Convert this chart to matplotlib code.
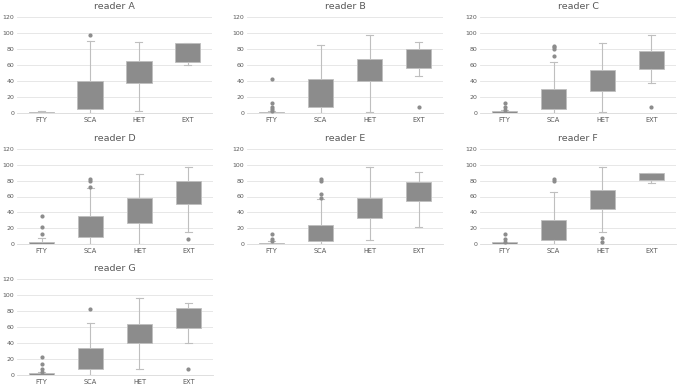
import matplotlib
matplotlib.use("Agg")
import matplotlib.pyplot as plt

categories = ["FTY", "SCA", "HET", "EXT"]
readers = ["A", "B", "C", "D", "E", "F", "G"]

# per reader: lower whisker, q1, q3, upper whisker for FTY, SCA, HET, EXT
whislo = {
    "A": [0, 0, 3, 60.5], "B": [0, 0, 1, 46], "C": [0, 0, 1, 37.5],
    "D": [0, 0, 0, 15], "E": [0, 0, 5, 22], "F": [0, 0, 15, 77],
    "G": [0, 0, 7, 40],
}
q1 = {
    "A": [0, 4.6, 38, 64], "B": [0, 7.5, 39.6, 56.7], "C": [0, 4.6, 27.5, 55.4],
    "D": [0, 9, 26, 50], "E": [0, 4, 33, 54.5], "F": [0, 4.6, 44, 80.5],
    "G": [0, 7, 40.5, 59],
}
q3 = {
    "A": [1, 39.5, 65.5, 88], "B": [1, 42, 67.5, 79.6], "C": [2, 30, 54, 78],
    "D": [3, 35, 58, 79], "E": [1, 24, 58, 78], "F": [2, 30, 68, 90],
    "G": [2, 34, 64, 84],
}
whishi = {
    "A": [2, 90, 89, 88], "B": [3, 85, 97, 89], "C": [4, 64, 87.5, 97],
    "D": [7, 70.5, 89, 97], "E": [4, 56.5, 97, 90.6], "F": [3, 66, 97, 90],
    "G": [4, 65, 96, 90],
}
outliers = {
    "A": [[], [97], [], []],
    "B": [[43, 13, 8, 5, 3], [], [], [7]],
    "C": [[13, 7, 4], [71, 80, 82, 84], [], [7]],
    "D": [[35, 21, 13], [72, 80, 82], [], [6]],
    "E": [[13, 6, 4], [58, 63, 80, 82], [], []],
    "F": [[13, 6, 3], [80, 82], [7, 2], []],
    "G": [[22, 14, 8, 4], [82], [], [7.5]],
}

# axes rectangles in pixels: left, right, top, bottom (from top of image)
W, H = 677, 387
boxes_px = {
    "A": (17, 212, 17, 113), "B": (247, 443, 17, 113), "C": (480, 676, 17, 113),
    "D": (17, 213, 149, 244), "E": (247, 443, 149, 244), "F": (480, 676, 149, 244),
    "G": (17, 213, 279, 375),
}

fig = plt.figure(figsize=(W / 100, H / 100), dpi=100)

grey_txt = "#595959"
for r in readers:
    l, rr, t, b = boxes_px[r]
    ax = fig.add_axes([l / W, 1 - b / H, (rr - l) / W, (b - t) / H])
    stats = []
    for i, c in enumerate(categories):
        stats.append(dict(whislo=whislo[r][i], q1=q1[r][i], med=q1[r][i],
                          q3=q3[r][i], whishi=whishi[r][i], fliers=outliers[r][i]))
    ax.bxp(stats, positions=range(1, 5), widths=0.52, patch_artist=True,
           showcaps=True, capwidths=0.14,
           boxprops=dict(facecolor="#8c8c8c", edgecolor="#bfbfbf", linewidth=0.6),
           whiskerprops=dict(color="#bfbfbf", linewidth=0.8),
           capprops=dict(color="#bfbfbf", linewidth=0.8),
           medianprops=dict(linewidth=0),
           flierprops=dict(marker="o", markersize=2, markerfacecolor="#8c8c8c",
                           markeredgecolor="#8c8c8c"),
           zorder=3)
    ax.set_xlim(0.5, 4.5)
    ax.set_ylim(0, 120)
    ax.set_yticks(range(0, 121, 20))
    ax.set_xticks(range(1, 5))
    ax.set_xticklabels(categories)
    ax.grid(axis="y", color="#e3e3e3", linewidth=0.6)
    ax.set_axisbelow(True)
    for s in ["top", "left", "right"]:
        ax.spines[s].set_visible(False)
    ax.spines["bottom"].set_color("#d9d9d9")
    ax.spines["bottom"].set_linewidth(0.6)
    ax.tick_params(length=0, labelsize=4.5, labelcolor=grey_txt, pad=2)
    ax.tick_params(axis="x", labelsize=4.8, pad=3)
    ax.set_title("reader " + r, fontsize=6.8, color=grey_txt, pad=6)

fig.savefig("out.png", dpi=100)
